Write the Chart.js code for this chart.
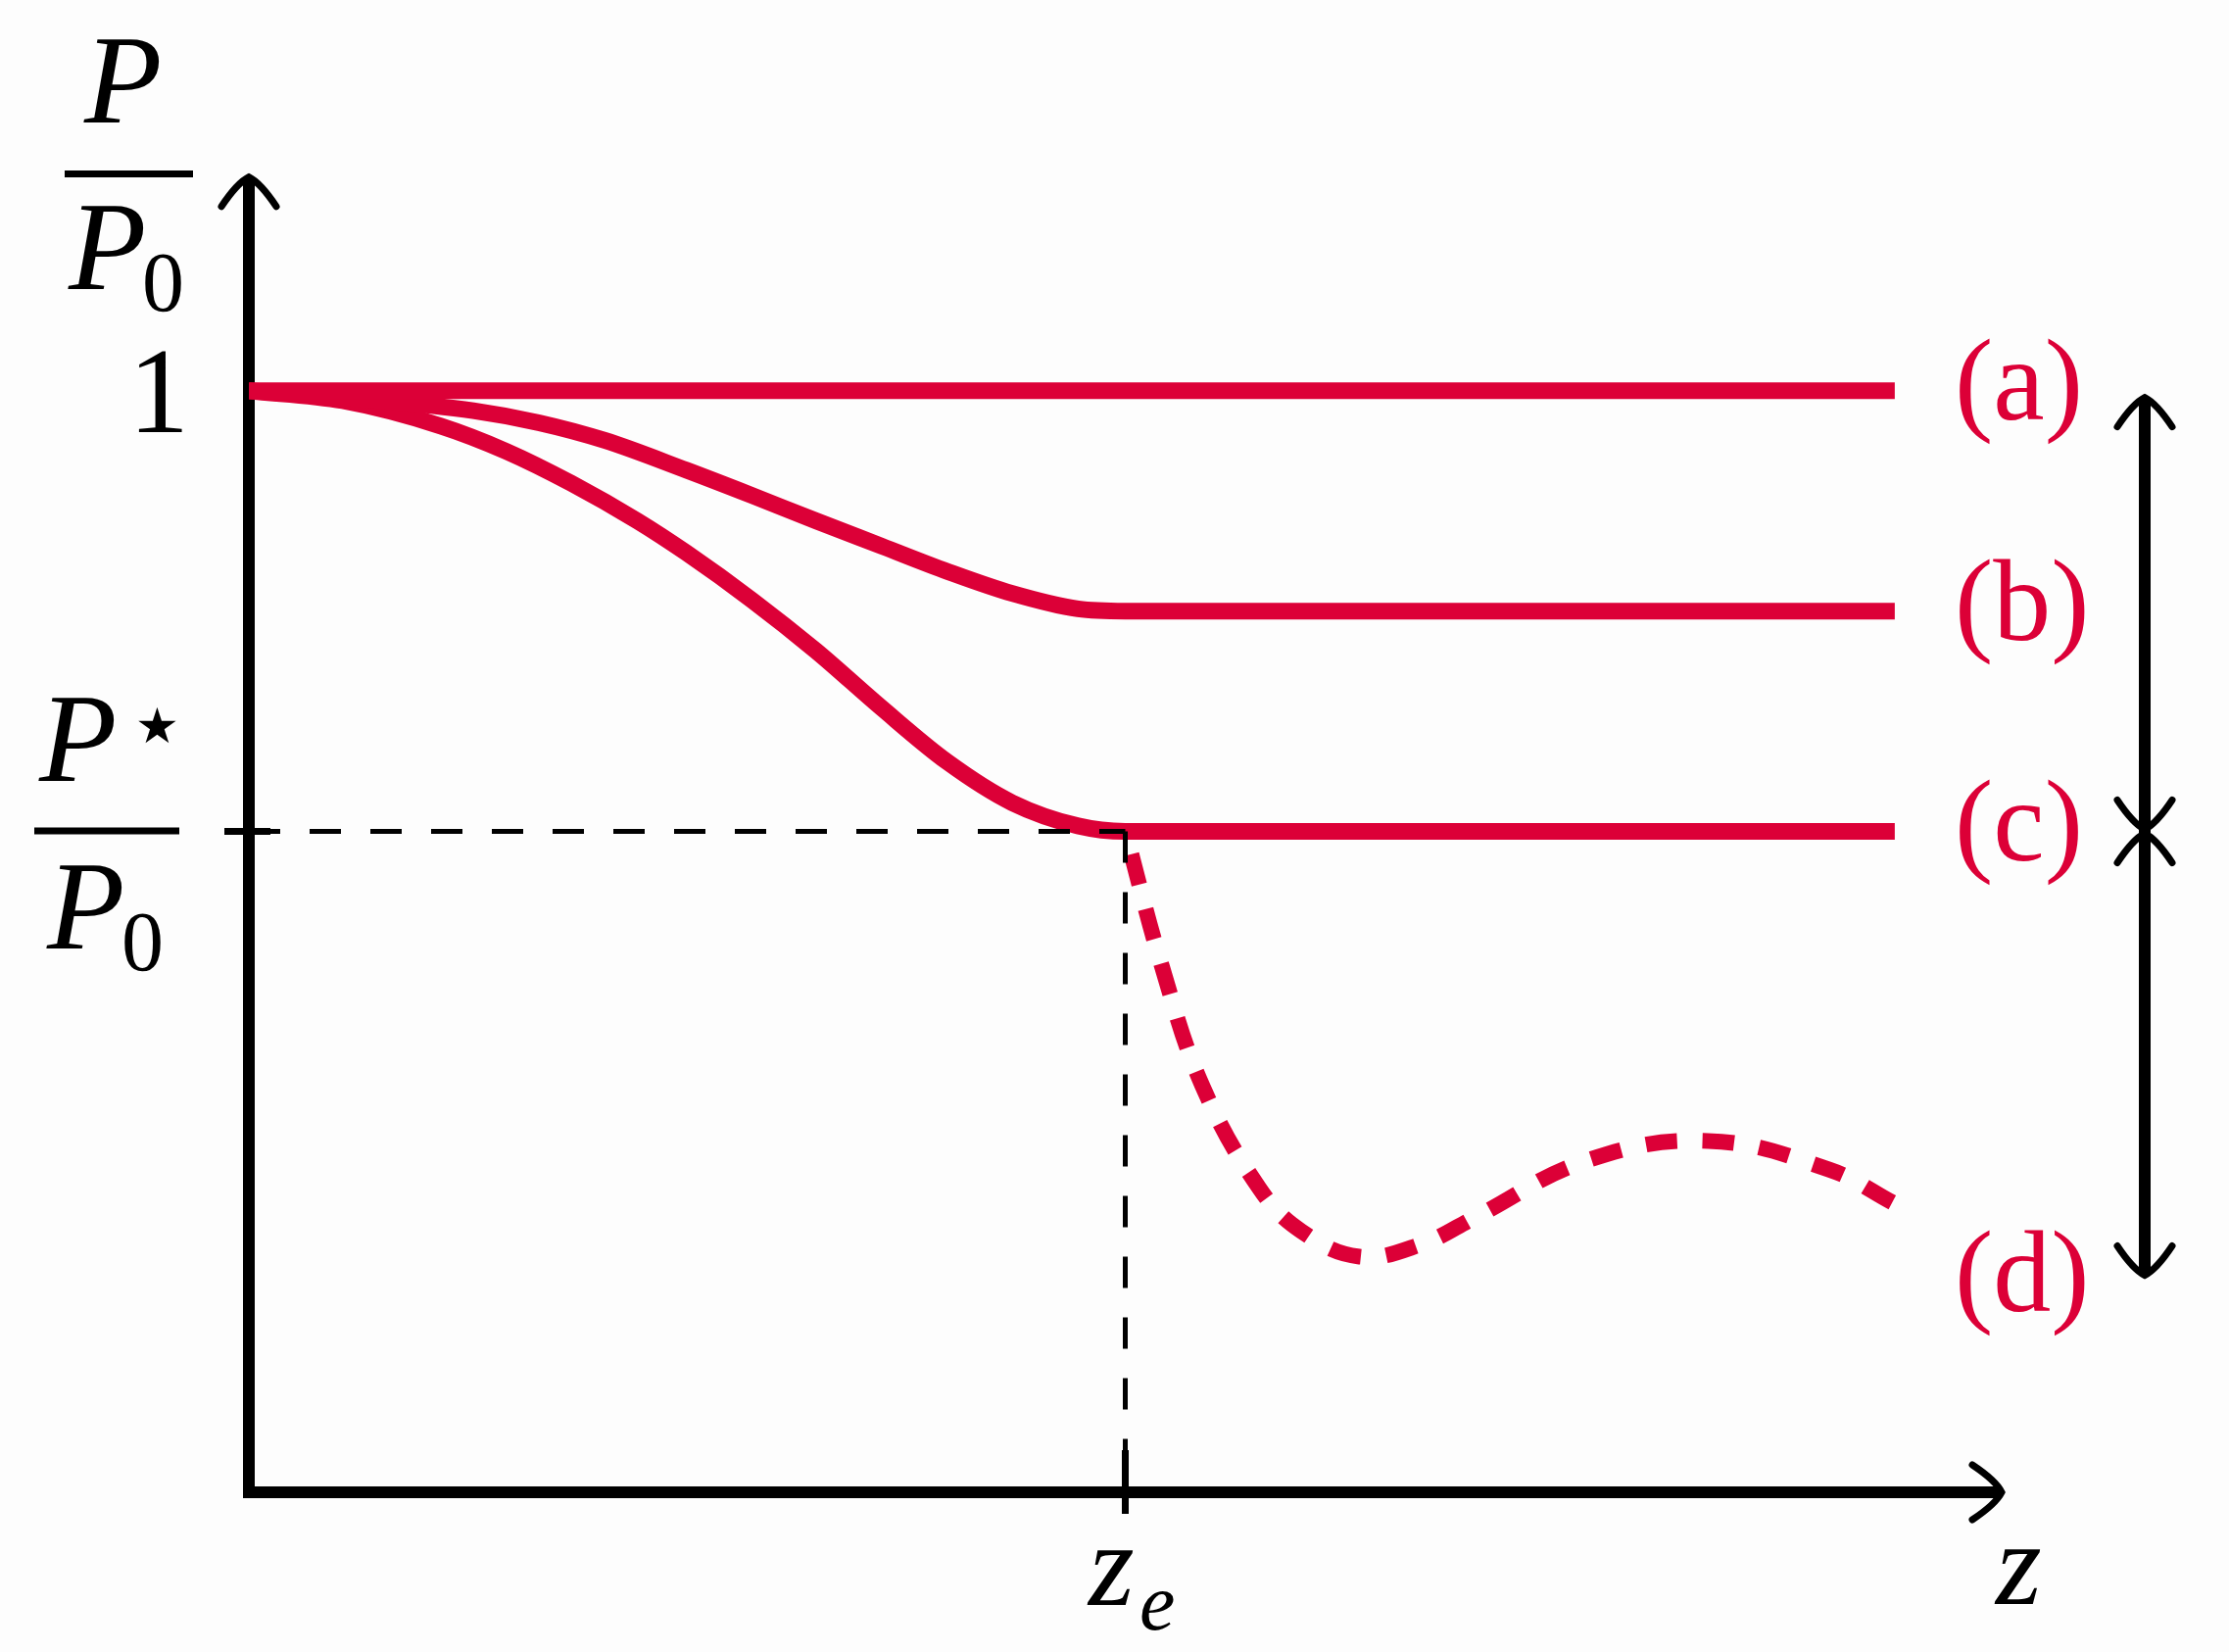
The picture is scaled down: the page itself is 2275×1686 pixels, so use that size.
<!DOCTYPE html>
<html>
<head>
<meta charset="utf-8">
<script src="https://cdn.jsdelivr.net/npm/chart.js@4.4.0/dist/chart.umd.min.js"></script>
<style>
  html, body { margin: 0; padding: 0; background: #fdfdfd; }
  canvas { display: block; }
</style>
</head>
<body>
<canvas id="chart" width="2275" height="1686"></canvas>
<script>
// courbes (z en unités de z_e, P/P0)
const zA = [0, 1.878];
const pA = [1, 1];

const zB = [0, 0.12, 0.256, 0.331, 0.406, 0.499, 0.574, 0.647, 0.722, 0.797, 0.871, 0.946, 1.0, 1.4, 1.878];
const pB = [1, 0.993, 0.982, 0.971, 0.955, 0.928, 0.905, 0.882, 0.859, 0.836, 0.816, 0.802, 0.800, 0.800, 0.800];

const zC = [0, 0.107, 0.219, 0.294, 0.368, 0.443, 0.499, 0.574, 0.647, 0.722, 0.797, 0.871, 0.946, 1.0, 1.4, 1.878];
const pC = [1, 0.991, 0.968, 0.945, 0.916, 0.882, 0.853, 0.810, 0.764, 0.712, 0.663, 0.626, 0.605, 0.600, 0.600, 0.600];

const zD = [1.0, 1.042, 1.088, 1.153, 1.201, 1.267, 1.337, 1.400, 1.526, 1.665, 1.803, 1.878];
const pD = [0.6, 0.477, 0.369, 0.276, 0.237, 0.214, 0.225, 0.250, 0.301, 0.319, 0.293, 0.262];

// repères
const zE = 1;
const pStar = 0.6;
const yTicks = ['1'];
const curveLabels = ['(a)', '(b)', '(c)', '(d)'];
const labelLevels = [1, 0.8, 0.6, 0.19];
const bracketLevels = [0.994, 0.6, 0.197];

const RED = '#dc0037';
const SERIF = '"Liberation Serif", "Times New Roman", serif';

function pts(xs, ys) {
    return xs.map((x, i) => ({ x: x, y: ys[i] }));
}

function head(ctx, x, y, dx, dy) {
    // pointe de flèche style "to" (dx,dy = direction)
    const px = -dy, py = dx;
    ctx.beginPath();
    ctx.moveTo(x - dx * 30 + px * 28, y - dy * 30 + py * 28);
    ctx.quadraticCurveTo(x - dx * 6 + px * 12, y - dy * 6 + py * 12, x, y);
    ctx.quadraticCurveTo(x - dx * 6 - px * 12, y - dy * 6 - py * 12, x - dx * 30 - px * 28, y - dy * 30 - py * 28);
    ctx.stroke();
}

const axesPlugin = {
    id: 'axes',
    beforeDatasetsDraw(chart) {
        const ctx = chart.ctx;
        const xs = chart.scales.x, ys = chart.scales.y;
        const x0 = xs.getPixelForValue(0), y0 = ys.getPixelForValue(0);
        const xTip = xs.getPixelForValue(2), yTip = ys.getPixelForValue(1.194);
        ctx.save();
        ctx.strokeStyle = '#000';
        ctx.lineWidth = 12;
        ctx.lineJoin = 'miter';
        ctx.beginPath();
        ctx.moveTo(x0, yTip + 2);
        ctx.lineTo(x0, y0);
        ctx.lineTo(xTip - 2, y0);
        ctx.stroke();
        ctx.lineWidth = 7;
        ctx.lineCap = 'round';
        head(ctx, x0, yTip, 0, -1);
        head(ctx, xTip, y0, 1, 0);
        ctx.restore();
    },
    afterDraw(chart) {
        const ctx = chart.ctx;
        const xs = chart.scales.x, ys = chart.scales.y;
        const x0 = xs.getPixelForValue(0), y0 = ys.getPixelForValue(0);
        ctx.save();
        ctx.fillStyle = '#000';
        ctx.strokeStyle = '#000';

        // petits traits de repère
        const yS = ys.getPixelForValue(pStar);
        const xZ = xs.getPixelForValue(zE);
        ctx.lineWidth = 7;
        ctx.beginPath();
        ctx.moveTo(x0 - 25, yS); ctx.lineTo(x0 + 22, yS);
        ctx.moveTo(xZ, y0 - 43); ctx.lineTo(xZ, y0 + 22);
        ctx.stroke();

        ctx.textBaseline = 'alphabetic';

        // graduation "1"
        ctx.font = '124px ' + SERIF;
        ctx.textAlign = 'right';
        ctx.fillText(yTicks[0], 193, ys.getPixelForValue(1) + 42);

        // P / P0
        ctx.textAlign = 'left';
        ctx.font = 'italic 130px ' + SERIF;
        ctx.fillText('P', 86, 125);
        ctx.fillText('P', 70, 295);
        ctx.font = '86px ' + SERIF;
        ctx.fillText('0', 145, 317);
        ctx.fillRect(66, 174, 131, 7);

        // P* / P0
        ctx.font = 'italic 130px ' + SERIF;
        ctx.fillText('P', 40, 797);
        ctx.fillText('P', 48, 968);
        ctx.font = '86px ' + SERIF;
        ctx.fillText('0', 124, 990);
        ctx.font = '50px "DejaVu Sans"';
        ctx.fillText('★', 138, 758);
        ctx.fillRect(35, yS - 4, 148, 7);

        // z_e et z
        ctx.font = 'italic 120px ' + SERIF;
        ctx.fillText('z', 1111, 1638);
        ctx.fillText('z', 2037, 1637);
        ctx.font = 'italic 82px ' + SERIF;
        ctx.fillText('e', 1163, 1663);

        // étiquettes des courbes
        ctx.fillStyle = RED;
        ctx.font = '118px ' + SERIF;
        curveLabels.forEach((t, i) => {
            ctx.fillText(t, 1995, ys.getPixelForValue(labelLevels[i]) + 29);
        });

        // double flèche à droite
        const xb = 2189;
        const b = bracketLevels.map(v => ys.getPixelForValue(v));
        ctx.strokeStyle = '#000';
        ctx.lineWidth = 12;
        ctx.lineCap = 'butt';
        ctx.beginPath();
        ctx.moveTo(xb, b[0] + 2); ctx.lineTo(xb, b[2] - 2);
        ctx.stroke();
        ctx.lineWidth = 7;
        ctx.lineCap = 'round';
        head(ctx, xb, b[0], 0, -1);
        head(ctx, xb, b[1] - 2, 0, 1);
        head(ctx, xb, b[1] + 2, 0, -1);
        head(ctx, xb, b[2], 0, 1);
        ctx.restore();
    }
};

function draw() {
    const ctx = document.getElementById('chart').getContext('2d');
    new Chart(ctx, {
        type: 'line',
        data: {
            datasets: [
                {
                    data: pts([0, zE], [pStar, pStar]),
                    borderColor: '#000', borderWidth: 5, borderDash: [32, 30], tension: 0
                },
                {
                    data: pts([zE, zE], [pStar, 0]),
                    borderColor: '#000', borderWidth: 5, borderDash: [32, 30], tension: 0
                },
                {
                    data: pts(zA, pA),
                    borderColor: RED, borderWidth: 17, tension: 0
                },
                {
                    data: pts(zB, pB),
                    borderColor: RED, borderWidth: 17, cubicInterpolationMode: 'monotone'
                },
                {
                    data: pts(zC, pC),
                    borderColor: RED, borderWidth: 17, cubicInterpolationMode: 'monotone'
                },
                {
                    data: pts(zD, pD),
                    borderColor: RED, borderWidth: 16, borderDash: [32, 26], borderDashOffset: 34, tension: 0.4
                }
            ]
        },
        options: {
            responsive: false,
            animation: false,
            devicePixelRatio: 1,
            layout: { padding: { left: 254, right: 232, top: 174, bottom: 163 } },
            elements: {
                point: { radius: 0 },
                line: { fill: false, borderCapStyle: 'butt', borderJoinStyle: 'round' }
            },
            scales: {
                x: { type: 'linear', min: 0, max: 2, display: false },
                y: { type: 'linear', min: 0, max: 1.2, display: false }
            },
            plugins: {
                legend: { display: false },
                tooltip: { enabled: false }
            }
        },
        plugins: [axesPlugin]
    });
}

Promise.all([
    document.fonts.load('120px "Liberation Serif"'),
    document.fonts.load('italic 120px "Liberation Serif"'),
    document.fonts.load('50px "DejaVu Sans"')
]).then(draw, draw);
</script>
</body>
</html>
